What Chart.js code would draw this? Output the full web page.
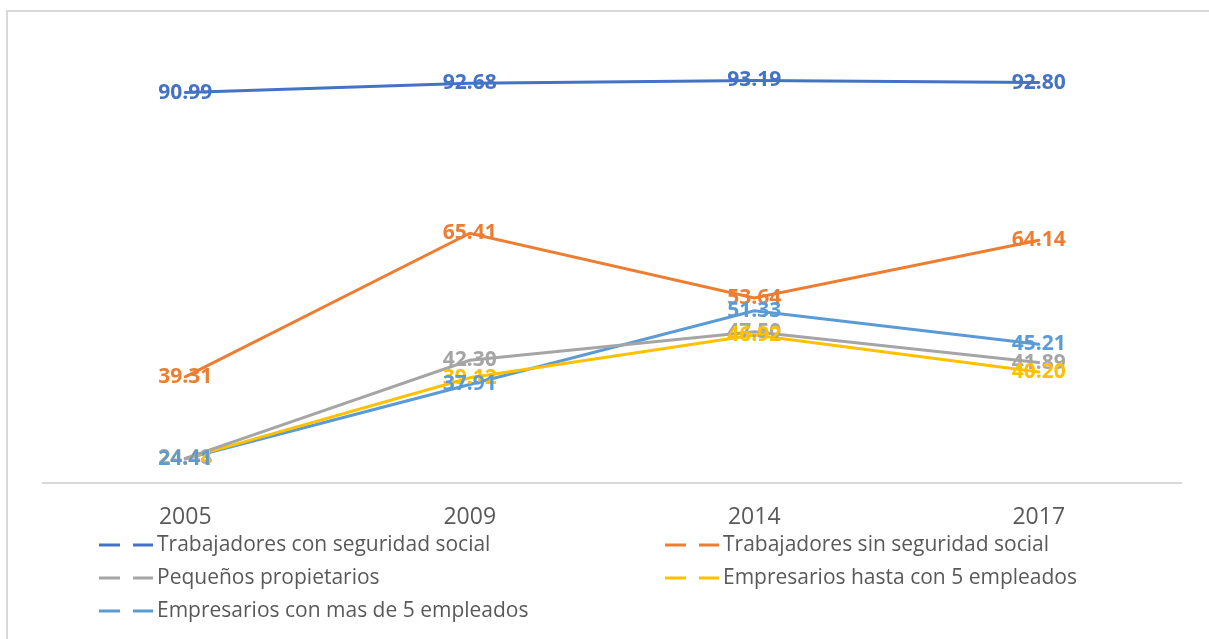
<!DOCTYPE html>
<html>
<head>
<meta charset="utf-8">
<script src="https://cdn.jsdelivr.net/npm/chart.js@4.4.1/dist/chart.umd.min.js"></script>
<style>
  html, body { margin: 0; padding: 0; background: #ffffff; }
  #wrap { position: relative; width: 1209px; height: 639px; }
</style>
</head>
<body>
<div id="wrap"><canvas id="c" width="1209" height="639"></canvas></div>
<script>
const categories = ['2005', '2009', '2014', '2017'];
const seriesNames = [
  'Trabajadores con seguridad social',
  'Trabajadores sin seguridad social',
  'Pequeños propietarios',
  'Empresarios hasta con 5 empleados',
  'Empresarios con mas de 5 empleados'
];
const conSeguridad   = [90.99, 92.68, 93.19, 92.80];
const sinSeguridad   = [39.31, 65.41, 53.64, 64.14];
const pequenosProp   = [24.48, 42.30, 47.50, 41.89];
const hasta5         = [24.44, 39.12, 46.92, 40.20];
const masDe5         = [24.41, 37.91, 51.33, 45.21];
const seriesValues = [conSeguridad, sinSeguridad, pequenosProp, hasta5, masDe5];
const seriesColors = ['#4472C4', '#ED7D31', '#A5A5A5', '#FFC000', '#5B9BD5'];

const FONT = '"Open Sans", "Liberation Sans", sans-serif';

const labelsPlugin = {
  id: 'valueLabels',
  afterDatasetsDraw(chart) {
    const ctx = chart.ctx;
    ctx.save();
    ctx.font = 'bold 21px ' + FONT;
    ctx.textAlign = 'center';
    ctx.textBaseline = 'middle';
    chart.data.datasets.forEach((ds, i) => {
      const meta = chart.getDatasetMeta(i);
      ctx.fillStyle = ds.borderColor;
      meta.data.forEach((pt, j) => {
        ctx.fillText(ds.data[j].toFixed(2), pt.x, pt.y);
      });
    });
    ctx.restore();
  }
};

const frameLegendPlugin = {
  id: 'frameLegend',
  afterDraw(chart) {
    const ctx = chart.ctx;
    ctx.save();
    // outer frame
    ctx.strokeStyle = '#D9D9D9';
    ctx.lineWidth = 2;
    ctx.beginPath();
    ctx.moveTo(7, 645);
    ctx.lineTo(7, 11);
    ctx.lineTo(1215, 11);
    ctx.stroke();
    // legend
    const cols = [99, 665];
    const rows = [545, 578, 611];
    ctx.font = '21px ' + FONT;
    ctx.textBaseline = 'middle';
    ctx.textAlign = 'left';
    chart.data.datasets.forEach((ds, i) => {
      const x = cols[i % 2];
      const y = rows[Math.floor(i / 2)];
      ctx.strokeStyle = ds.borderColor;
      ctx.lineWidth = 3;
      ctx.lineCap = 'butt';
      ctx.beginPath();
      ctx.moveTo(x, y); ctx.lineTo(x + 21, y);
      ctx.moveTo(x + 34, y); ctx.lineTo(x + 54, y);
      ctx.stroke();
      ctx.fillStyle = '#595959';
      ctx.fillText(ds.label, x + 58, y);
    });
    ctx.restore();
  }
};

new Chart(document.getElementById('c'), {
  type: 'line',
  data: {
    labels: categories,
    datasets: seriesNames.map((name, i) => ({
      label: name,
      data: seriesValues[i],
      borderColor: seriesColors[i],
      backgroundColor: seriesColors[i],
      borderWidth: 3,
      pointRadius: 0,
      tension: 0,
      borderCapStyle: 'round',
      fill: false
    }))
  },
  options: {
    responsive: false,
    animation: false,
    devicePixelRatio: 1,
    layout: { padding: { left: 43, right: 28, top: 43, bottom: 0 } },
    plugins: { legend: { display: false }, tooltip: { enabled: false } },
    scales: {
      x: {
        offset: true,
        grid: { display: false, drawTicks: false },
        border: { display: true, color: '#D9D9D9', width: 2 },
        ticks: { color: '#595959', font: { family: FONT, size: 23 }, padding: 21 },
        afterFit(scale) { scale.height = 156; }
      },
      y: { display: false, min: 20, max: 100 }
    }
  },
  plugins: [labelsPlugin, frameLegendPlugin]
});
</script>
</body>
</html>
